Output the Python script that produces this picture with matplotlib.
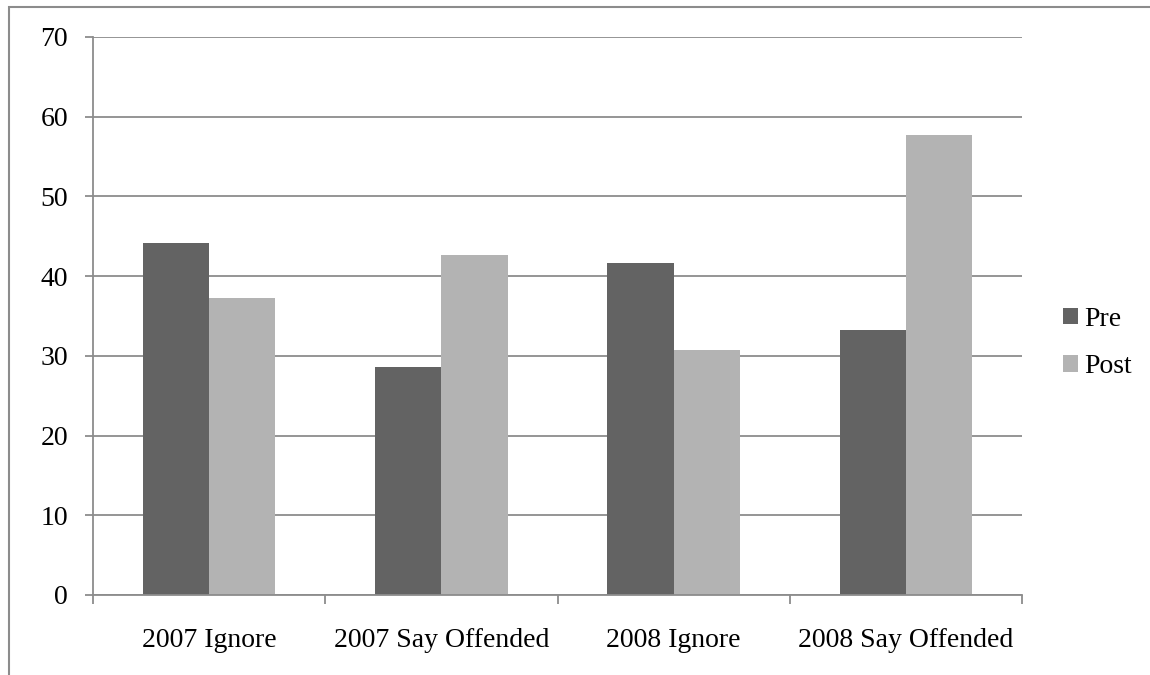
"""
plot.py

Pre / post responses by year, grouped bar chart
"""

import matplotlib.pyplot as plt
from matplotlib.patches import Rectangle
import numpy as np

categories = ["2007 Ignore", "2007 Say Offended", "2008 Ignore", "2008 Say Offended"]
pre = [44.2, 28.6, 41.7, 33.3]
post = [37.3, 42.7, 30.7, 57.7]

GRID = "#8c8c8c"
PRE_COLOUR = "#636363"
POST_COLOUR = "#b3b3b3"


def plot():
    plt.rcParams["font.family"] = ["Liberation Serif", "DejaVu Serif"]

    fig = plt.figure(figsize=(11.5, 6.75), dpi=100)
    fig.patch.set_facecolor("white")
    ax = fig.add_axes([93 / 1150, 1 - 595 / 675, (1022 - 93) / 1150, (595 - 37) / 675])

    # outer chart border, runs off the right and bottom edges
    fig.patches.append(
        Rectangle(
            (9 / 1150, -0.05),
            1.1,
            1 - 7 / 675 + 0.05,
            transform=fig.transFigure,
            fill=False,
            edgecolor=GRID,
            linewidth=1.5,
        )
    )

    centres = np.arange(len(categories)) + 0.5
    width = 1 / 3.5
    ax.bar(centres - width / 2, pre, width, color=PRE_COLOUR, label="Pre", zorder=2)
    ax.bar(centres + width / 2, post, width, color=POST_COLOUR, label="Post", zorder=2)

    ax.set_xlim(0, len(categories))
    ax.set_ylim(0, 70)
    ax.set_yticks(range(0, 71, 10))
    ax.yaxis.grid(True, color=GRID, linewidth=1.3, zorder=0)
    ax.set_axisbelow(True)

    for side in ["top", "right"]:
        ax.spines[side].set_visible(False)
    for side in ["left", "bottom"]:
        ax.spines[side].set_color(GRID)
        ax.spines[side].set_linewidth(1.3)

    ax.tick_params(axis="y", length=6, width=1.3, color=GRID, pad=12, labelsize=20)

    ax.set_xticks(range(len(categories) + 1))
    ax.set_xticklabels([])
    ax.tick_params(axis="x", which="major", length=6.5, width=1.3, color=GRID)
    ax.set_xticks(centres, minor=True)
    ax.set_xticklabels(categories, minor=True)
    ax.tick_params(axis="x", which="minor", length=0, pad=24, labelsize=20)

    ax.legend(
        loc="center left",
        bbox_to_anchor=(1063 / 1150, 1 - 343 / 675),
        bbox_transform=fig.transFigure,
        frameon=False,
        fontsize=20,
        handlelength=0.55,
        handleheight=0.55,
        handletextpad=0.22,
        labelspacing=0.8,
        borderpad=0,
        borderaxespad=0,
    )

    plt.savefig("out.png", dpi=100)


if __name__ == "__main__":
    plot()
